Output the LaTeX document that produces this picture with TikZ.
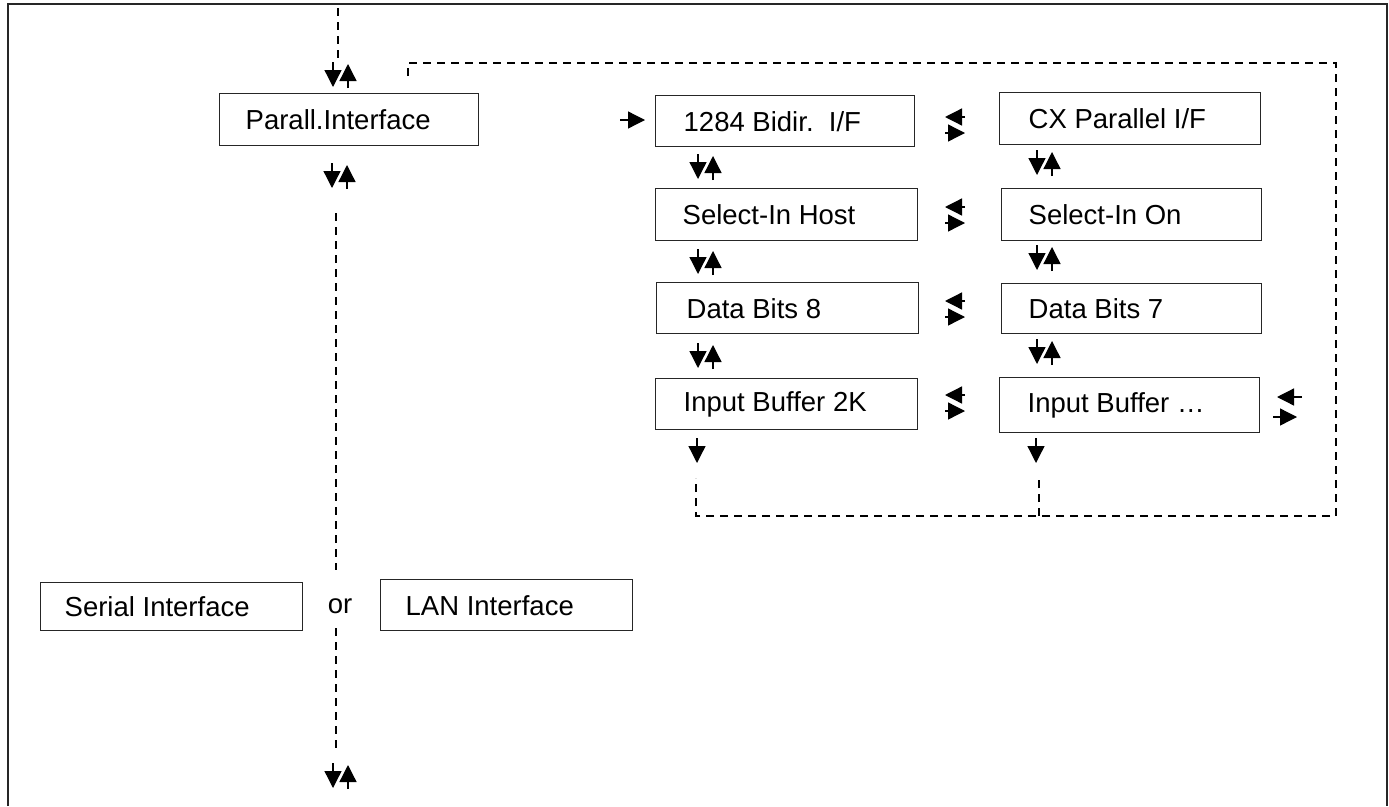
\documentclass[tikz,border=0pt]{standalone}
\usepackage{fontspec}
\setmainfont{Liberation Sans}
\usetikzlibrary{arrows.meta}
\newcommand\menubox[7]{% name, x1, y1, x2, y2, pad, text
  \node[boxst, minimum height={(#5-#3)*1pt}] (#1) at (#2,#3)
    {\makebox[\dimexpr #4pt-#2pt\relax][l]{\hspace*{#6pt}#7}};}
\newcommand\UDpair[2]{%
  \draw[arr] (#1,#2) -- (#1,#2+25);
  \draw[arr] (#1+15,#2+26) -- (#1+15,#2+2);}
\newcommand\LRpair[3]{% x, y upper, y lower
  \draw[arr] (#1+20,#2) -- (#1,#2);
  \draw[arr] (#1,#3) -- (#1+20,#3);}
\begin{document}
\begin{tikzpicture}[x=1pt,y=-1pt,
  boxst/.style={draw=black!85, line width=1.4pt, rectangle, anchor=north west,
    inner sep=0pt, font=\fontsize{27.5}{32}\selectfont},
  arr/.style={line width=1.3pt, -{Triangle[length=17pt,width=17pt]}},
  dsh/.style={line width=2pt, dash pattern=on 8pt off 6pt},
  lbl/.style={font=\fontsize{27.5}{32}\selectfont, inner sep=0pt}]
\useasboundingbox (0,0) rectangle (1389,806);
% frame
\draw[line width=2pt, black!85] (8,806) -- (8,4) -- (1387,4) -- (1387,806);
% boxes
\menubox{parall}{219}{93}{478}{145}{26}{Parall.Interface}
\menubox{bidir}{655}{95}{914}{146}{28}{1284 Bidir.\ \ I/F}
\menubox{cx}{999}{92}{1260}{144}{29}{CX Parallel I/F}
\menubox{selhost}{655}{188}{917}{240}{27}{Select-In Host}
\menubox{selon}{1001}{188}{1261}{240}{27}{\raisebox{-5pt}{Select-In On}}
\menubox{db8}{656}{282}{918}{333}{30}{Data Bits 8}
\menubox{db7}{1001}{283}{1261}{333}{27}{\raisebox{-5pt}{Data Bits 7}}
\menubox{ib2k}{655}{378}{917}{429}{28}{Input Buffer 2K}
\menubox{ibx}{999}{377}{1259}{432}{28}{Input Buffer …}
\menubox{serial}{40}{582}{302}{630}{24}{Serial Interface}
\menubox{lan}{380}{579}{632}{630}{25}{LAN Interface}
\node[lbl] (or) at (340,606) {or};
% dashed lines
\coordinate (topd) at (338,8);
\draw[dsh] (topd) -- (338,58);
\draw[dsh] (336,213) -- (336,570);
\draw[dsh] (336,628) -- (336,752);
\draw[dsh] (408,76) -- (408,63) -- (1336,63) -- (1336,516) -- (696,516) -- (696,478);
\draw[dsh] (1039,516) -- (1039,478);
% vertical arrow pairs
\UDpair{333}{62}
\UDpair{332}{163}
\UDpair{333}{763}
\UDpair{698}{154}
\UDpair{698}{249}
\UDpair{698}{343}
\UDpair{1037}{150}
\UDpair{1037}{245}
\UDpair{1037}{339}
\draw[arr] (697,438) -- (697,463);
\draw[arr] (1036,438) -- (1036,463);
% horizontal arrow pairs
\LRpair{945}{117}{133}
\LRpair{945}{207}{223}
\LRpair{945}{301}{317}
\LRpair{945}{395}{411}
\draw[arr] (1302,397) -- (1277,397);
\draw[arr] (1273,417) -- (1297,417);
\draw[arr] (620,120) -- (645,120);
\end{tikzpicture}
\end{document}
